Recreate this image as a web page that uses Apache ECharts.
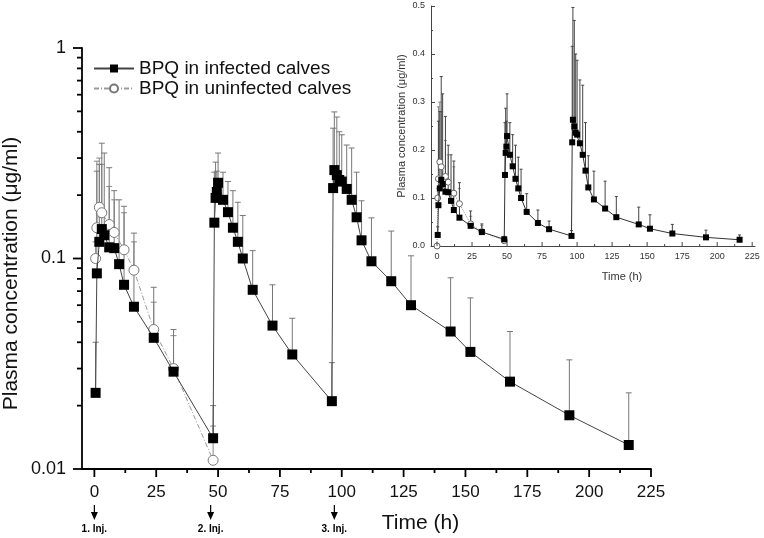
<!DOCTYPE html>
<html>
<head>
<meta charset="utf-8">
<script src="https://cdn.jsdelivr.net/npm/echarts@6/dist/echarts.min.js"></script>
<style>
html, body { margin: 0; padding: 0; background: #fff; }
#charts { width: 764px; height: 538px; }
</style>
</head>
<body>
<div id="charts"></div>
<script>
// time points (h) and mean plasma concentration (ug/ml), infected calves
var infTime = [0.5, 1, 2, 3, 4, 6, 8, 10, 12, 16, 24, 32, 48,
    48.5, 49, 49.5, 50, 52, 54, 56, 58, 60, 64, 72, 80, 96,
    96.5, 97, 98, 99, 100, 102, 104, 106, 108, 112, 120, 128, 144, 152, 168, 192, 216];
var infConc = [0.023, 0.085, 0.12, 0.138, 0.129, 0.113, 0.112, 0.094, 0.075, 0.059, 0.042, 0.029, 0.014,
    0.148, 0.194, 0.207, 0.229, 0.19, 0.166, 0.14, 0.12, 0.1, 0.071, 0.048, 0.035, 0.021,
    0.216, 0.263, 0.249, 0.236, 0.232, 0.214, 0.19, 0.157, 0.122, 0.097, 0.078, 0.06, 0.045, 0.036, 0.026, 0.018, 0.013];
// upper end of the error bar (mean + SD)
var infUpper = [0.04, 0.26, 0.28, 0.353, 0.317, 0.27, 0.21, 0.19, 0.177, 0.132, 0.073, 0.046, 0.02,
    0.257, 0.287, 0.26, 0.317, 0.257, 0.232, 0.21, 0.185, 0.16, 0.109, 0.075, 0.052, 0.032,
    0.416, 0.497, 0.47, 0.4, 0.387, 0.346, 0.335, 0.257, 0.188, 0.156, 0.135, 0.103, 0.081, 0.065, 0.045, 0.033, 0.023];

// uninfected calves (first injection only)
var uninfTime = [0, 0.5, 1, 2, 3, 6, 8, 12, 16, 24, 32, 48];
var uninfConc = [0, 0.1, 0.14, 0.175, 0.165, 0.145, 0.133, 0.11, 0.088, 0.046, 0.03, 0.011];
var uninfUpper = [0.005, 0.12, 0.29, 0.3, 0.28, 0.22, 0.19, 0.165, 0.12, 0.062, 0.043, 0.016];

var injTime = [0, 47, 97];
var injLabel = ['1. Inj.', '2. Inj.', '3. Inj.'];

var xMajor = [0, 25, 50, 75, 100, 125, 150, 175, 200, 225];
var xMinor = [12.5, 37.5, 62.5, 87.5, 112.5, 137.5, 162.5, 187.5, 212.5];
var yLogMajor = [0.01, 0.1, 1];
var yLogMinor = [0.02, 0.03, 0.04, 0.05, 0.06, 0.07, 0.08, 0.09, 0.2, 0.3, 0.4, 0.5, 0.6, 0.7, 0.8, 0.9];

var NAME_INF = 'BPQ in infected calves';
var NAME_UNINF = 'BPQ in uninfected calves';
var FONT = 'Liberation Sans, Arial, sans-serif';

var myChart = echarts.init(document.getElementById('charts'));

function pairs(t, v, logOnly) {
    var out = [];
    for (var i = 0; i < t.length; i++) {
        if (logOnly && v[i] <= 0) continue;
        out.push([t[i], v[i]]);
    }
    return out;
}
function triples(t, v, u, logOnly) {
    var out = [];
    for (var i = 0; i < t.length; i++) {
        if (logOnly && v[i] <= 0) continue;
        out.push([t[i], v[i], u[i]]);
    }
    return out;
}

function errorBars(cap, color, width) {
    return function (params, api) {
        var lo = api.coord([api.value(0), api.value(1)]);
        var hi = api.coord([api.value(0), api.value(2)]);
        var st = { stroke: color, lineWidth: width };
        return {
            type: 'group',
            children: [
                { type: 'line', shape: { x1: lo[0], y1: lo[1], x2: hi[0], y2: hi[1] }, style: st },
                { type: 'line', shape: { x1: hi[0] - cap, y1: hi[1], x2: hi[0] + cap, y2: hi[1] }, style: st }
            ]
        };
    };
}

var option = {
    animation: false,
    backgroundColor: '#fff',
    textStyle: { fontFamily: FONT },
    legend: {
        data: [NAME_INF, NAME_UNINF],
        orient: 'vertical',
        left: 88,
        top: 54,
        itemWidth: 40,
        itemHeight: 10,
        itemGap: 1,
        textStyle: { fontSize: 19, color: '#111', lineHeight: 19, fontFamily: FONT }
    },
    grid: [
        { left: 82, right: 113, top: 48, bottom: 69, containLabel: false, outerBoundsMode: 'none' },
        { left: 431, right: 9, top: 6, bottom: 292, containLabel: false, outerBoundsMode: 'none' }
    ],
    xAxis: [
        {
            gridIndex: 0, type: 'value', min: -5, max: 225,
            name: 'Time (h)', nameLocation: 'middle', nameGap: 44, nameMoveOverlap: false,
            nameTextStyle: { fontSize: 21, color: '#111', padding: [0, 0, 0, 108] },
            axisLine: { onZero: false, lineStyle: { color: '#000', width: 1.8 } },
            axisTick: { show: false },
            axisLabel: { customValues: xMajor, fontSize: 17, color: '#111', margin: 15 },
            splitLine: { show: false }
        },
        {
            gridIndex: 1, type: 'value', min: -4.3, max: 227,
            name: 'Time (h)', nameLocation: 'middle', nameGap: 25, nameMoveOverlap: false,
            nameTextStyle: { fontSize: 11, color: '#333', padding: [0, 0, 0, 58] },
            axisLine: { onZero: false, lineStyle: { color: '#444', width: 1 } },
            axisTick: { show: false },
            axisLabel: { customValues: xMajor, fontSize: 9, color: '#333', margin: 6 },
            splitLine: { show: false }
        }
    ],
    yAxis: [
        {
            gridIndex: 0, type: 'log', logBase: 10, min: 0.01, max: 1,
            name: 'Plasma concentration (\u03bcg/ml)', nameLocation: 'middle', nameRotate: 90,
            nameGap: 60, nameMoveOverlap: false,
            nameTextStyle: { fontSize: 21, color: '#111', padding: [0, 30, 0, 0] },
            axisLine: { onZero: false, lineStyle: { color: '#000', width: 1.8 } },
            axisTick: { show: false },
            axisLabel: {
                fontSize: 18, color: '#111', margin: 16,
                formatter: function (v) { return String(+v.toPrecision(1)); }
            },
            splitLine: { show: false }
        },
        {
            gridIndex: 1, type: 'value', min: 0, max: 0.5, interval: 0.1,
            name: 'Plasma concentration (\u03bcg/ml)', nameLocation: 'middle', nameRotate: 90,
            nameGap: 24, nameMoveOverlap: false,
            nameTextStyle: { fontSize: 11, color: '#333' },
            axisLine: { show: true, onZero: false, lineStyle: { color: '#444', width: 1 } },
            axisTick: { inside: true, length: 4, lineStyle: { color: '#444' } },
            minorTick: { show: true, splitNumber: 2, length: 2, lineStyle: { color: '#444' } },
            axisLabel: { fontSize: 9, color: '#333', margin: 6, formatter: function (v) { return v.toFixed(1); } },
            splitLine: { show: false }
        }
    ],
    series: [
        {
            type: 'custom', xAxisIndex: 0, yAxisIndex: 0, z: 1, silent: true,
            renderItem: errorBars(3, '#888', 1),
            encode: { x: 0, y: [1, 2] },
            data: triples(uninfTime, uninfConc, uninfUpper, true)
        },
        {
            type: 'custom', xAxisIndex: 0, yAxisIndex: 0, z: 1, silent: true,
            renderItem: errorBars(3, '#777', 1),
            encode: { x: 0, y: [1, 2] },
            data: triples(infTime, infConc, infUpper, true)
        },
        {
            name: NAME_UNINF, type: 'line', xAxisIndex: 0, yAxisIndex: 0, z: 3,
            symbol: 'circle', symbolSize: 10,
            itemStyle: { color: '#fff', borderColor: '#777', borderWidth: 1 },
            lineStyle: { color: '#999', width: 1, type: [5, 2, 1, 2] },
            data: pairs(uninfTime, uninfConc, true)
        },
        {
            name: NAME_INF, type: 'line', xAxisIndex: 0, yAxisIndex: 0, z: 4,
            symbol: 'rect', symbolSize: 10,
            itemStyle: { color: '#000' },
            lineStyle: { color: '#444', width: 1 },
            data: pairs(infTime, infConc, true)
        },
        // inset (linear scale)
        {
            type: 'custom', xAxisIndex: 1, yAxisIndex: 1, z: 1, silent: true,
            renderItem: errorBars(1.5, '#888', 1),
            encode: { x: 0, y: [1, 2] },
            data: triples(uninfTime, uninfConc, uninfUpper, false)
        },
        {
            type: 'custom', xAxisIndex: 1, yAxisIndex: 1, z: 1, silent: true,
            renderItem: errorBars(1.5, '#444', 1),
            encode: { x: 0, y: [1, 2] },
            data: triples(infTime, infConc, infUpper, false)
        },
        {
            type: 'line', xAxisIndex: 1, yAxisIndex: 1, z: 3,
            symbol: 'circle', symbolSize: 6,
            itemStyle: { color: '#fff', borderColor: '#666', borderWidth: 1 },
            lineStyle: { color: '#999', width: 1, type: 'dotted' },
            data: pairs(uninfTime, uninfConc, false)
        },
        {
            type: 'line', xAxisIndex: 1, yAxisIndex: 1, z: 4,
            symbol: 'rect', symbolSize: 6,
            itemStyle: { color: '#000' },
            lineStyle: { color: '#333', width: 1 },
            data: pairs(infTime, infConc, false)
        }
    ]
};
myChart.setOption(option);

// axis ticks and injection arrows, placed through the chart's own scales
var marks = [];
function tick(x1, y1, x2, y2, color, w) {
    marks.push({ type: 'line', z: 10, shape: { x1: x1, y1: y1, x2: x2, y2: y2 }, style: { stroke: color, lineWidth: w } });
}
var mainBottom = myChart.convertToPixel({ yAxisIndex: 0 }, 0.01);
var mainLeft = myChart.convertToPixel({ xAxisIndex: 0 }, -5);
xMajor.forEach(function (v) {
    var x = myChart.convertToPixel({ xAxisIndex: 0 }, v);
    tick(x, mainBottom, x, mainBottom + 8, '#000', 1.8);
});
xMinor.forEach(function (v) {
    var x = myChart.convertToPixel({ xAxisIndex: 0 }, v);
    tick(x, mainBottom, x, mainBottom + 4, '#000', 1.8);
});
yLogMajor.forEach(function (v) {
    var y = myChart.convertToPixel({ yAxisIndex: 0 }, v);
    tick(mainLeft - 9, y, mainLeft, y, '#000', 1.8);
});
yLogMinor.forEach(function (v) {
    var y = myChart.convertToPixel({ yAxisIndex: 0 }, v);
    tick(mainLeft - 5, y, mainLeft, y, '#000', 1.8);
});
var insetBottom = myChart.convertToPixel({ yAxisIndex: 1 }, 0);
xMajor.forEach(function (v) {
    var x = myChart.convertToPixel({ xAxisIndex: 1 }, v);
    tick(x, insetBottom, x, insetBottom - 4, '#444', 1);
});
xMinor.forEach(function (v) {
    var x = myChart.convertToPixel({ xAxisIndex: 1 }, v);
    tick(x, insetBottom, x, insetBottom - 2, '#444', 1);
});

injTime.forEach(function (t, i) {
    var x = myChart.convertToPixel({ xAxisIndex: 0 }, t);
    marks.push({ type: 'line', shape: { x1: x, y1: 505, x2: x, y2: 513 }, style: { stroke: '#000', lineWidth: 1.2 } });
    marks.push({ type: 'polygon', shape: { points: [[x - 3.5, 512], [x + 3.5, 512], [x, 520]] }, style: { fill: '#000' } });
    marks.push({
        type: 'text', x: x, y: 529,
        style: { text: injLabel[i], fontSize: 10, fontWeight: 'bold', fill: '#000', align: 'center', verticalAlign: 'middle', fontFamily: FONT }
    });
});
myChart.setOption({ graphic: marks });
</script>
</body>
</html>
